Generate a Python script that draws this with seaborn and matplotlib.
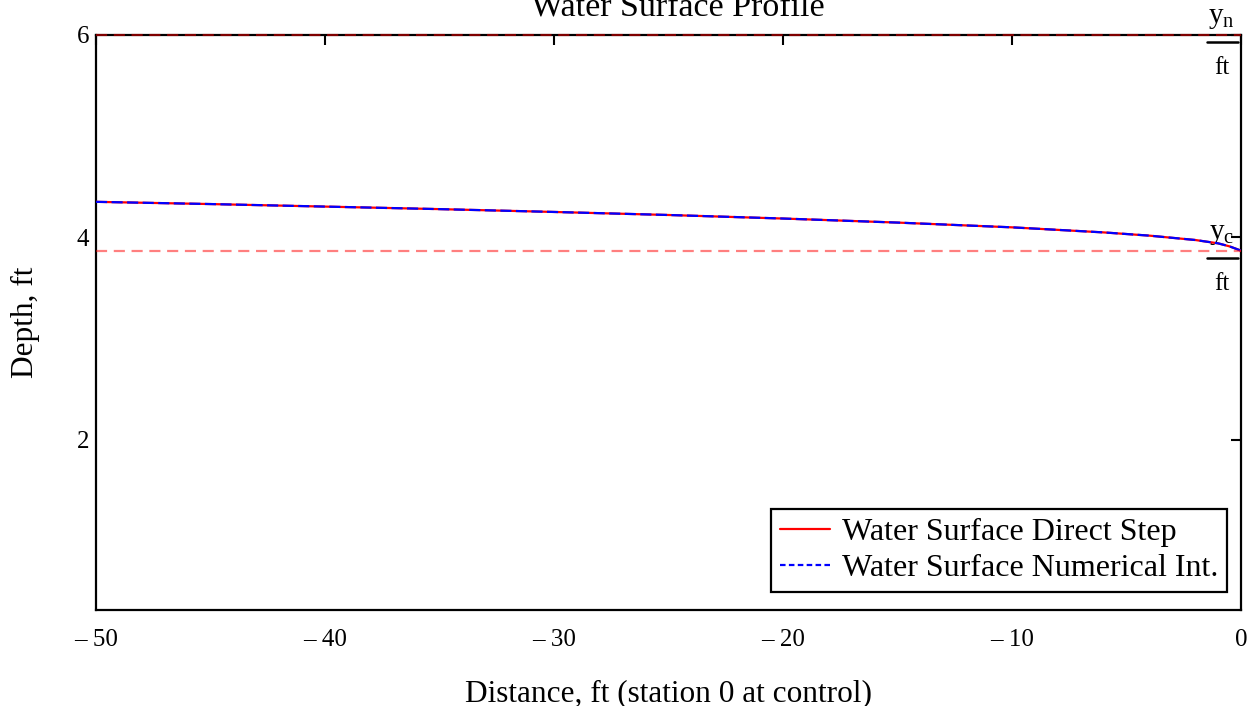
import numpy as np
import pandas as pd
import matplotlib
matplotlib.use("Agg")
import matplotlib.pyplot as plt
import matplotlib.transforms as mtransforms
from matplotlib.lines import Line2D
import seaborn as sns

# ---- data ----
distance = [-50, -45, -40, -35, -30, -25, -20, -15, -10, -6, -4, -2, -1, -0.5, 0]
depth_direct = [4.352, 4.330, 4.305, 4.280, 4.252, 4.222, 4.187, 4.147, 4.100, 4.050, 4.018, 3.975, 3.942, 3.912, 3.870]
depth_numint = [4.352, 4.330, 4.305, 4.280, 4.252, 4.222, 4.187, 4.147, 4.100, 4.050, 4.018, 3.975, 3.942, 3.912, 3.870]
yn = 6.0
yc = 3.87
xticks = [-50, -40, -30, -20, -10, 0]
xticklabels = ["\u2013 50", "\u2013 40", "\u2013 30", "\u2013 20", "\u2013 10", "0"]
yticks = [2, 4, 6]
yticklabels = ["2", "4", "6"]
series_names = ["Water Surface Direct Step", "Water Surface Numerical Int."]

sns.set_theme(style="white")
plt.rcParams["font.family"] = ["Liberation Serif", "DejaVu Serif"]
plt.rcParams["text.color"] = "black"
plt.rcParams["axes.labelcolor"] = "black"
plt.rcParams["mathtext.fontset"] = "custom"
plt.rcParams["mathtext.rm"] = "Liberation Serif"
plt.rcParams["mathtext.it"] = "Liberation Serif"

df = pd.DataFrame({
    "x": distance * 2,
    "y": depth_direct + depth_numint,
    "series": [series_names[0]] * len(distance) + [series_names[1]] * len(distance),
})

fig = plt.figure(figsize=(12.6, 7.06), dpi=100)
ax = fig.add_axes([96 / 1260, 1 - 610 / 706, (1241 - 96) / 1260, (610 - 35) / 706])

sns.lineplot(data=df, x="x", y="y", hue="series", style="series",
             palette=["#ff0000", "#0000ff"],
             dashes=[(None, None), (5, 2)], linewidth=1.6, ax=ax, zorder=4,
             legend=True)
ax.lines[1].set_dashes((5, 2))

for val in (yn, yc):
    ax.axhline(val, color="#ff0000", alpha=0.5, linestyle=(0, (5, 3)),
               linewidth=1.6, zorder=5, clip_on=False)

ax.set_xlim(-50, 0)
ax.set_ylim(0.32, 6)
ax.set_xticks(xticks)
ax.set_xticklabels(xticklabels)
ax.set_yticks(yticks)
ax.set_yticklabels(yticklabels)
ax.tick_params(direction="in", length=7, width=1.5, top=True, right=True,
               labelsize=18, colors="black")
ax.tick_params(axis="x", pad=14)
ax.tick_params(axis="y", pad=5)
for s in ax.spines.values():
    s.set_color("black")
    s.set_linewidth(1.6)
    s.set_zorder(3)

ax.set_xlabel("Distance, ft (station 0 at control)", fontsize=22.5, labelpad=20, color="black")
ax.set_ylabel("Depth, ft", fontsize=22.5, labelpad=26, color="black")

fig.text(0.538, 1 - 15 / 706, "Water Surface Profile", ha="center", va="baseline",
         fontsize=24.5, color="black")

# fraction markers y_n / ft and y_c / ft
blend = mtransforms.blended_transform_factory(ax.transAxes, ax.transData)
for val, sub in ((yn, "n"), (yc, "c")):
    t_num = mtransforms.offset_copy(blend, fig=fig, x=0, y=12, units="dots")
    ax.text(0.983, val, r"$\mathregular{y_%s}$" % sub, transform=t_num, ha="center",
            va="baseline", fontsize=21, color="black", clip_on=False)
    t_bar = mtransforms.offset_copy(blend, fig=fig, x=0, y=-7, units="dots")
    ax.add_line(Line2D([0.970, 0.997], [val, val], transform=t_bar, color="black",
                       linewidth=1.8, clip_on=False))
    t_den = mtransforms.offset_copy(blend, fig=fig, x=0, y=-39, units="dots")
    ax.text(0.983, val, "ft", transform=t_den, ha="center", va="baseline",
            fontsize=18, color="black", clip_on=False)

leg = ax.legend(loc="lower right", bbox_to_anchor=(1 - 14 / 1145, 18 / 575),
                borderaxespad=0, fontsize=23, frameon=True, fancybox=False,
                framealpha=1, edgecolor="black", handlelength=1.55,
                handletextpad=0.37, borderpad=0.28, labelspacing=0.2, title=None)
leg.get_frame().set_linewidth(1.6)
for t in leg.get_texts():
    t.set_color("black")
for h in leg.get_lines():
    h.set_linewidth(1.6)
leg.get_lines()[1].set_dashes((2.5, 1.5))

fig.savefig("out.png", dpi=100)
